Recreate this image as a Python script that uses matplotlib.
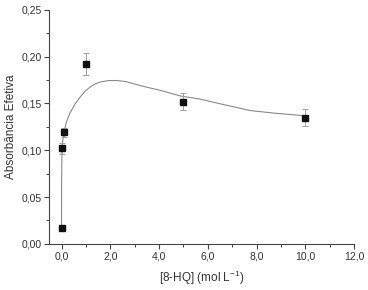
import matplotlib
matplotlib.use("Agg")
import matplotlib.pyplot as plt
from matplotlib.ticker import MultipleLocator, FuncFormatter

plt.rcParams['font.family'] = ['Liberation Sans', 'DejaVu Sans']
plt.rcParams['mathtext.fontset'] = 'custom'
plt.rcParams['mathtext.rm'] = 'Liberation Sans'

# measured data
conc = [0.0, 0.01, 0.1, 1.0, 5.0, 10.0]
absorb = [0.017, 0.102, 0.119, 0.192, 0.152, 0.135]
err = [0.002, 0.006, 0.005, 0.012, 0.0095, 0.0095]

# fitted curve
curve_x = [0.0, 0.005, 0.02, 0.05, 0.1, 0.2, 0.35, 0.57, 0.8, 0.98, 1.2, 1.39,
           1.6, 1.94, 2.28, 2.62, 2.83, 3.4, 4.06, 4.88, 5.7, 6.52, 7.75, 8.8, 9.93]
curve_y = [0.017, 0.07, 0.098, 0.110, 0.119, 0.130, 0.140, 0.150, 0.158, 0.1635,
           0.168, 0.171, 0.173, 0.1745, 0.1745, 0.1735, 0.172, 0.168, 0.164, 0.158,
           0.1546, 0.1496, 0.1424, 0.1395, 0.137]

fig = plt.figure(figsize=(3.68, 2.9), dpi=100)
ax = fig.add_axes([0.134, 0.159, 0.828, 0.807])

txt = '#333333'
ax.plot(curve_x, curve_y, color='#8a8a8a', lw=0.8, zorder=2)
ax.errorbar(conc, absorb, yerr=err, fmt='none', ecolor='#a0a0a0', elinewidth=0.7,
            capsize=2.5, capthick=0.7, zorder=3)
ax.plot(conc, absorb, 's', color='#111111', ms=4.8, zorder=4)

ax.set_xlim(-0.5, 12.0)
ax.set_ylim(0.0, 0.25)
ax.xaxis.set_major_locator(MultipleLocator(2.0))
ax.xaxis.set_minor_locator(MultipleLocator(1.0))
ax.yaxis.set_major_locator(MultipleLocator(0.05))
ax.yaxis.set_minor_locator(MultipleLocator(0.025))
ax.xaxis.set_major_formatter(FuncFormatter(lambda v, p: f"{v:.1f}".replace('.', ',')))
ax.yaxis.set_major_formatter(FuncFormatter(lambda v, p: f"{v:.2f}".replace('.', ',')))

for s in ['top', 'right']:
    ax.spines[s].set_visible(False)
for s in ['left', 'bottom']:
    ax.spines[s].set_color('#444444')
    ax.spines[s].set_linewidth(0.8)

ax.tick_params(which='major', direction='out', length=3.5, width=0.8, colors='#444444',
               labelsize=7.5, labelcolor=txt, pad=2)
ax.tick_params(which='minor', direction='out', length=2, width=0.7, colors='#444444')

ax.set_xlabel('[8-HQ] (mol L$^{-1}$)', fontsize=8.5, color=txt, labelpad=5)
ax.set_ylabel('Absorbância Efetiva', fontsize=8.5, color=txt, labelpad=3)

fig.savefig('out.png', dpi=100)
